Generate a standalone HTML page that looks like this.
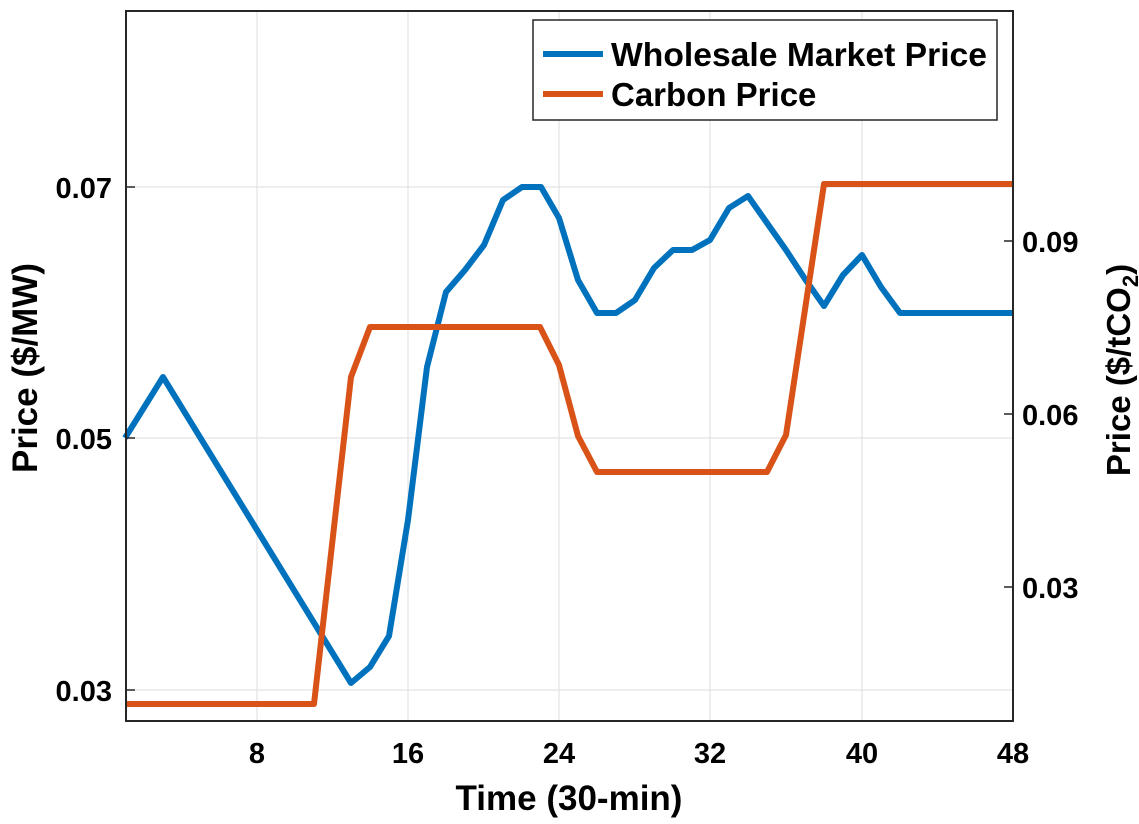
<!DOCTYPE html>
<html><head><style>body{margin:0;background:#fff}</style></head><body>
<svg width="1139" height="819" xmlns="http://www.w3.org/2000/svg" font-family="Liberation Sans, sans-serif" font-weight="bold">
<rect x="0" y="0" width="1139" height="819" fill="#fff"/>
<g stroke="#dedede" stroke-width="1">
<line x1="257" y1="11" x2="257" y2="721"/><line x1="408" y1="11" x2="408" y2="721"/><line x1="559" y1="11" x2="559" y2="721"/><line x1="710" y1="11" x2="710" y2="721"/><line x1="862" y1="11" x2="862" y2="721"/>
<line x1="126" y1="187" x2="1013" y2="187"/><line x1="126" y1="438" x2="1013" y2="438"/><line x1="126" y1="690" x2="1013" y2="690"/>
</g>
<g stroke-width="6" fill="none" stroke-linejoin="round">
<polyline stroke="#0072BD" points="125,438 163,377 351,683 370,667 389,636 408,520 427,367 446,292 465,270 484,245 503,200 522,187 541,187 559,218 578,280 597,313 616,313 635,300 654,268 673,250 692,250 710,240 729,208 748,196 767,223 786,250 805,279 824,306 843,275 862,255 881,287 900,313 1013,313"/>
<polyline stroke="#D95319" points="125,704 314,704 351,377 370,327 540,327 559,365 578,436 597,472 767,472 786,435 824,184 1013,184"/>
</g>
<rect x="126" y="11" width="887" height="710" fill="none" stroke="#262626" stroke-width="2"/>
<g stroke="#262626" stroke-width="1.5">
<line x1="126" y1="187" x2="135" y2="187"/><line x1="126" y1="438" x2="135" y2="438"/><line x1="126" y1="690" x2="135" y2="690"/>
<line x1="1013" y1="241" x2="1004" y2="241"/><line x1="1013" y1="414" x2="1004" y2="414"/><line x1="1013" y1="587" x2="1004" y2="587"/>
</g>
<g font-size="29" fill="#000">
<text x="112" y="198" text-anchor="end">0.07</text><text x="112" y="449" text-anchor="end">0.05</text><text x="112" y="701" text-anchor="end">0.03</text>
<text x="1022" y="252">0.09</text><text x="1022" y="425">0.06</text><text x="1022" y="598">0.03</text>
<text x="257" y="763" text-anchor="middle">8</text><text x="408" y="763" text-anchor="middle">16</text><text x="559" y="763" text-anchor="middle">24</text><text x="710" y="763" text-anchor="middle">32</text><text x="862" y="763" text-anchor="middle">40</text><text x="1013" y="763" text-anchor="middle">48</text>
</g>
<text x="569" y="810" font-size="35" text-anchor="middle">Time (30-min)</text>
<text transform="translate(37,368) rotate(-90)" font-size="35" text-anchor="middle">Price ($/MW)</text>
<text transform="translate(1130,370) rotate(-90)" font-size="33" text-anchor="middle">Price ($/tCO<tspan font-size="22" dy="8">2</tspan><tspan dy="-8">)</tspan></text>
<rect x="533" y="20" width="464" height="100" fill="#fff" stroke="#262626" stroke-width="1.5"/>
<line x1="543" y1="54" x2="603" y2="54" stroke="#0072BD" stroke-width="6"/>
<line x1="543" y1="94" x2="603" y2="94" stroke="#D95319" stroke-width="6"/>
<text x="611" y="66" font-size="33" textLength="376" lengthAdjust="spacingAndGlyphs">Wholesale Market Price</text>
<text x="611" y="106" font-size="33">Carbon Price</text>
</svg>
</body></html>
